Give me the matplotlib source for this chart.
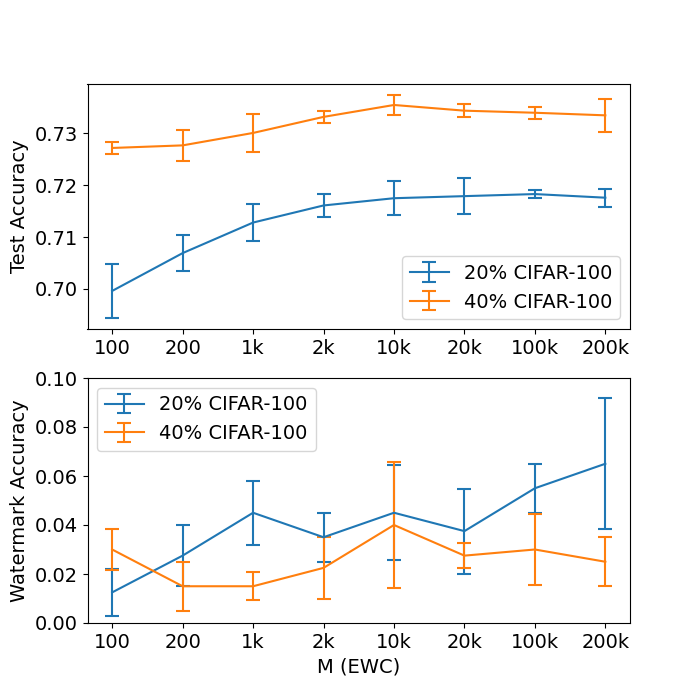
import matplotlib
matplotlib.use("Agg")
import matplotlib.pyplot as plt

labels = ["100", "200", "1k", "2k", "10k", "20k", "100k", "200k"]
test_20 = [0.6996, 0.7069, 0.7128, 0.7161, 0.7175, 0.7179, 0.7183, 0.7176]
test_20_err = [0.0052, 0.00345, 0.00355, 0.00226, 0.00325, 0.0035, 0.00077, 0.0017]
test_40 = [0.7272, 0.7277, 0.7301, 0.7332, 0.7355, 0.7344, 0.7340, 0.7335]
test_40_err = [0.00116, 0.00297, 0.0036, 0.0011, 0.0019, 0.0012, 0.00116, 0.00325]
wm_20 = [0.0125, 0.0275, 0.045, 0.035, 0.045, 0.0375, 0.055, 0.065]
wm_20_err = [0.0095, 0.0125, 0.013, 0.0101, 0.0194, 0.0173, 0.010, 0.0268]
wm_40 = [0.030, 0.015, 0.015, 0.0225, 0.040, 0.0275, 0.030, 0.025]
wm_40_err = [0.0084, 0.0101, 0.0057, 0.0127, 0.0258, 0.005, 0.0143, 0.010]

plt.rcParams['font.size'] = 14
x = list(range(len(labels)))
fig, (ax1, ax2) = plt.subplots(2, 1, figsize=(7, 7), dpi=100)

ax1.errorbar(x, test_20, yerr=test_20_err, capsize=5, capthick=1.5, label="20% CIFAR-100")
ax1.errorbar(x, test_40, yerr=test_40_err, capsize=5, capthick=1.5, label="40% CIFAR-100")
ax1.set_xticks(x)
ax1.set_xticklabels(labels)
ax1.set_yticks([0.70, 0.71, 0.72, 0.73])
ax1.set_ylabel("Test Accuracy")
ax1.legend(loc="lower right")

ax2.errorbar(x, wm_20, yerr=wm_20_err, capsize=5, capthick=1.5, label="20% CIFAR-100")
ax2.errorbar(x, wm_40, yerr=wm_40_err, capsize=5, capthick=1.5, label="40% CIFAR-100")
ax2.set_xticks(x)
ax2.set_xticklabels(labels)
ax2.set_ylim(0, 0.1)
ax2.set_ylabel("Watermark Accuracy")
ax2.set_xlabel("M (EWC)")
ax2.legend(loc="upper left")

fig.savefig("out.png", dpi=100)
